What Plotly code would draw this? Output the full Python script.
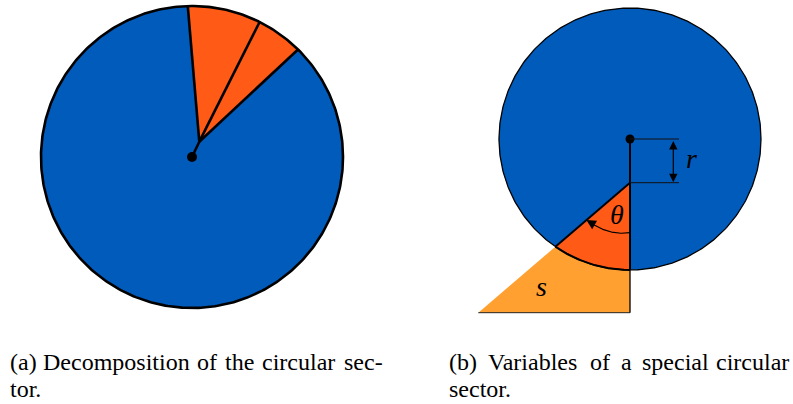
import numpy as np
import plotly.graph_objects as go

# ---------------- data (geometry, pixel units) ----------------
# Panel (a): decomposition of the circular sector
A_CENTER = (192.0, 157.0)
A_RADIUS = 151.0
A_APEX = (199.3, 141.7)
A_RAY_ANGLES = [91.6, 63.4, 45.4]      # deg, where the rays from the apex meet the circle

# Panel (b): variables of a special circular sector
B_CENTER = (630.0, 139.0)
B_RADIUS = 131.0
B_OFFSET_R = 43.7                      # r : centre -> apex of the sector
B_THETA_DEG = 49.4                     # theta : opening angle
B_BASE_Y = 312.7                       # bottom of the triangle s

MATH_LABELS = ["r", "θ", "s"]
CAPTION_A_LINE1 = ["(a)", "Decomposition", "of", "the", "circular", "sec-"]
CAPTION_A_LINE2 = "tor."
CAPTION_B_LINE1 = ["(b)", "Variables", "of", "a", "special", "circular"]
CAPTION_B_LINE2 = "sector."

BLUE = "#005BBB"
ORANGE = "#FF5A16"
LIGHT = "#FFA030"
BLACK = "#000000"
SERIF = "'Liberation Serif', 'Times New Roman', Times, 'DejaVu Serif', serif"


def pt(c, R, ang):
    a = np.radians(ang)
    return c[0] + R * np.cos(a), c[1] - R * np.sin(a)


def arc(c, R, a0, a1, n=200):
    a = np.radians(np.linspace(a0, a1, n))
    return list(c[0] + R * np.cos(a)), list(c[1] - R * np.sin(a))


fig = go.Figure()


def poly(xs, ys, fill=None, lw=0, lc=BLACK):
    fig.add_trace(go.Scatter(
        x=xs, y=ys, mode="lines",
        fill="toself" if fill else None, fillcolor=fill,
        line=dict(width=lw, color=lc if lw else "rgba(0,0,0,0)"),
        hoverinfo="skip", showlegend=False))


# ---------------- panel (a) ----------------
cx, cy = arc(A_CENTER, A_RADIUS, 0, 360, 400)
poly(cx, cy, fill=BLUE)
sx, sy = arc(A_CENTER, A_RADIUS, A_RAY_ANGLES[0], A_RAY_ANGLES[-1])
poly([A_APEX[0]] + sx + [A_APEX[0]], [A_APEX[1]] + sy + [A_APEX[1]], fill=ORANGE)
poly(cx, cy, lw=2.6)
rx, ry = [], []
for ang in A_RAY_ANGLES:
    px, py = pt(A_CENTER, A_RADIUS, ang)
    rx += [A_APEX[0], px, None]
    ry += [A_APEX[1], py, None]
rx += [A_CENTER[0], A_APEX[0]]
ry += [A_CENTER[1], A_APEX[1]]
poly(rx, ry, lw=2.6)
fig.add_trace(go.Scatter(x=[A_CENTER[0]], y=[A_CENTER[1]], mode="markers",
                         marker=dict(size=10, color=BLACK), hoverinfo="skip", showlegend=False))

# ---------------- panel (b) ----------------
apex = (B_CENTER[0], B_CENTER[1] + B_OFFSET_R)
phi = 270.0 - B_THETA_DEG
d = (np.cos(np.radians(phi)), -np.sin(np.radians(phi)))
vd = B_OFFSET_R * d[1]
t_hit = -vd + np.sqrt(vd ** 2 - B_OFFSET_R ** 2 + B_RADIUS ** 2)
P = (apex[0] + t_hit * d[0], apex[1] + t_hit * d[1])
angP = np.degrees(np.arctan2(-(P[1] - B_CENTER[1]), P[0] - B_CENTER[0])) % 360
t_base = (B_BASE_Y - apex[1]) / d[1]
L = (apex[0] + t_base * d[0], B_BASE_Y)
bottom = (B_CENTER[0], B_CENTER[1] + B_RADIUS)

ax_, ay_ = arc(B_CENTER, B_RADIUS, angP, 270)
# triangle s
poly([P[0]] + ax_ + [B_CENTER[0], L[0], P[0]], [P[1]] + ay_ + [B_BASE_Y, L[1], P[1]], fill=LIGHT)
# circle
bx, by = arc(B_CENTER, B_RADIUS, 0, 360, 400)
poly(bx, by, fill=BLUE)
# sector
poly([apex[0], P[0]] + ax_ + [apex[0]], [apex[1], P[1]] + ay_ + [apex[1]], fill=ORANGE)
poly(bx, by, lw=1.3)
poly(ax_, ay_, lw=2.0)
poly([apex[0], P[0]], [apex[1], P[1]], lw=2.0)
poly([B_CENTER[0], B_CENTER[0]], [B_CENTER[1], bottom[1]], lw=2.0)
poly([B_CENTER[0], B_CENTER[0]], [bottom[1], B_BASE_Y], lw=1.3)
poly([L[0], B_CENTER[0]], [B_BASE_Y, B_BASE_Y], lw=1.0, lc="#222222")
fig.add_trace(go.Scatter(x=[B_CENTER[0]], y=[B_CENTER[1]], mode="markers",
                         marker=dict(size=9, color=BLACK), hoverinfo="skip", showlegend=False))

# r dimension
xr_end = B_CENTER[0] + 49
poly([B_CENTER[0], xr_end, None, B_CENTER[0], xr_end],
     [B_CENTER[1], B_CENTER[1], None, apex[1], apex[1]], lw=1.0, lc="#111111")
xr = B_CENTER[0] + 43.3
fig.add_annotation(x=xr, y=apex[1] - 0.5, ax=xr, ay=B_CENTER[1] + 0.5, xref="x", yref="y",
                   axref="x", ayref="y", text="", showarrow=True, arrowhead=2,
                   arrowside="end+start", arrowsize=1.4, arrowwidth=1.2, arrowcolor=BLACK,
                   standoff=0, startstandoff=0)

# theta arc with arrow
ang_arc = np.linspace(270, phi + 4, 80)
rad_arc = np.linspace(50, 56, 80)
tx = apex[0] + rad_arc * np.cos(np.radians(ang_arc))
ty = apex[1] - rad_arc * np.sin(np.radians(ang_arc))
poly(list(tx), list(ty), lw=1.2)
tip = (apex[0] + 57.5 * d[0], apex[1] + 57.5 * d[1])
fig.add_annotation(x=tip[0], y=tip[1], ax=tx[-6], ay=ty[-6], xref="x", yref="y",
                   axref="x", ayref="y", text="", showarrow=True, arrowhead=2,
                   arrowsize=1.6, arrowwidth=1.2, arrowcolor=BLACK, standoff=0)

mfont = dict(family=SERIF, size=28, color=BLACK)
fig.add_annotation(x=xr_end + 12, y=(B_CENTER[1] + apex[1]) / 2 - 2, text="<i>%s</i>" % MATH_LABELS[0],
                   showarrow=False, font=mfont, xanchor="center", yanchor="middle")
fig.add_annotation(x=616.5, y=214, text="<i>%s</i>" % MATH_LABELS[1],
                   showarrow=False, font=mfont, xanchor="center", yanchor="middle")
fig.add_annotation(x=541.5, y=286, text="<i>%s</i>" % MATH_LABELS[2],
                   showarrow=False, font=mfont, xanchor="center", yanchor="middle")

# ---------------- captions (justified first lines, word by word) ----------------
cfont = dict(family=SERIF, size=24, color=BLACK)
y1, y2 = 361.5, 389


def words(ws, xs, y):
    for i, (w, x) in enumerate(zip(ws, xs)):
        last = i == len(ws) - 1
        fig.add_annotation(x=x, y=y, text=w, showarrow=False, font=cfont,
                           xanchor="right" if last else "left", yanchor="middle")


words(CAPTION_A_LINE1, [8, 40.5, 195, 223, 260, 385], y1)
fig.add_annotation(x=8, y=y2, text=CAPTION_A_LINE2, showarrow=False, font=cfont,
                   xanchor="left", yanchor="middle")
words(CAPTION_B_LINE1, [446.5, 485.5, 588, 619, 640, 791], y1)
fig.add_annotation(x=446.5, y=y2, text=CAPTION_B_LINE2, showarrow=False, font=cfont,
                   xanchor="left", yanchor="middle")

fig.update_layout(
    width=793, height=404, margin=dict(l=0, r=0, t=0, b=0),
    paper_bgcolor="white", plot_bgcolor="white", showlegend=False,
    font=dict(family=SERIF),
    xaxis=dict(range=[0, 793], visible=False, fixedrange=True),
    yaxis=dict(range=[404, 0], visible=False, fixedrange=True),
)
fig.write_html("out.html", config={"displayModeBar": False},
               post_script="document.body.style.margin='0px';document.body.style.overflow='hidden';")
